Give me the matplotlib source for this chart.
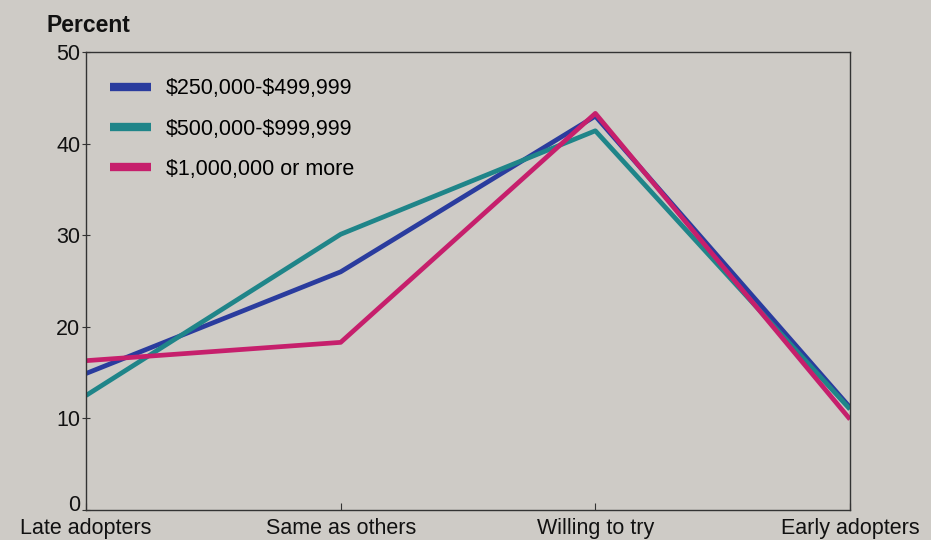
import matplotlib.pyplot as plt
import matplotlib.transforms as mtransforms

plt.rcParams['font.family'] = ['Liberation Sans', 'DejaVu Sans']
plt.rcParams['text.parse_math'] = False

categories = ['Late adopters', 'Same as others', 'Willing to try', 'Early adopters']
series_names = ['$250,000-$499,999', '$500,000-$999,999', '$1,000,000 or more']
low_values = [14.9, 26.0, 43.0, 11.2]
mid_values = [12.5, 30.1, 41.4, 11.0]
high_values = [16.3, 18.3, 43.3, 9.9]
colors = ['#2a3c9e', '#1f8589', '#c61f6c']

bg = '#cecbc6'
fig = plt.figure(figsize=(9.31, 5.4), dpi=100, facecolor=bg)
ax = fig.add_axes([0.0924, 0.0556, 0.8206, 0.8481], facecolor=bg)

x = range(len(categories))
for vals, name, c in zip([low_values, mid_values, high_values], series_names, colors):
    ax.plot(x, vals, color=c, lw=3.4, label=name, solid_capstyle='butt')

ax.set_xlim(0, 3)
ax.set_ylim(0, 50)
ax.set_yticks([0, 10, 20, 30, 40, 50])
ax.set_xticks(list(x))
ax.set_xticklabels(categories)
ax.tick_params(axis='both', labelsize=15.5, color='#333333', labelcolor='#111111')
ax.tick_params(axis='y', direction='inout', length=6, width=0.8, pad=1)
ax.tick_params(axis='x', direction='in', length=5, width=0.8, pad=6)
for s in ax.spines.values():
    s.set_color('#333333')
    s.set_linewidth(1.0)

# nudge the "0" label up so it clears "Late adopters"
zero_lbl = ax.get_yticklabels()[0]
zero_lbl.set_transform(zero_lbl.get_transform() +
                       mtransforms.ScaledTranslation(0, 7 / 100, fig.dpi_scale_trans))

fig.text(0.05, 0.94, 'Percent', fontsize=16.5, fontweight='bold', color='#111111')

leg = ax.legend(loc='upper left', bbox_to_anchor=(0.006, 0.985), frameon=False,
                fontsize=15.5, handlelength=1.9, labelspacing=0.9, handletextpad=0.7)
for h in leg.get_lines():
    h.set_linewidth(6)

fig.savefig('out.png', dpi=100, facecolor=bg)
